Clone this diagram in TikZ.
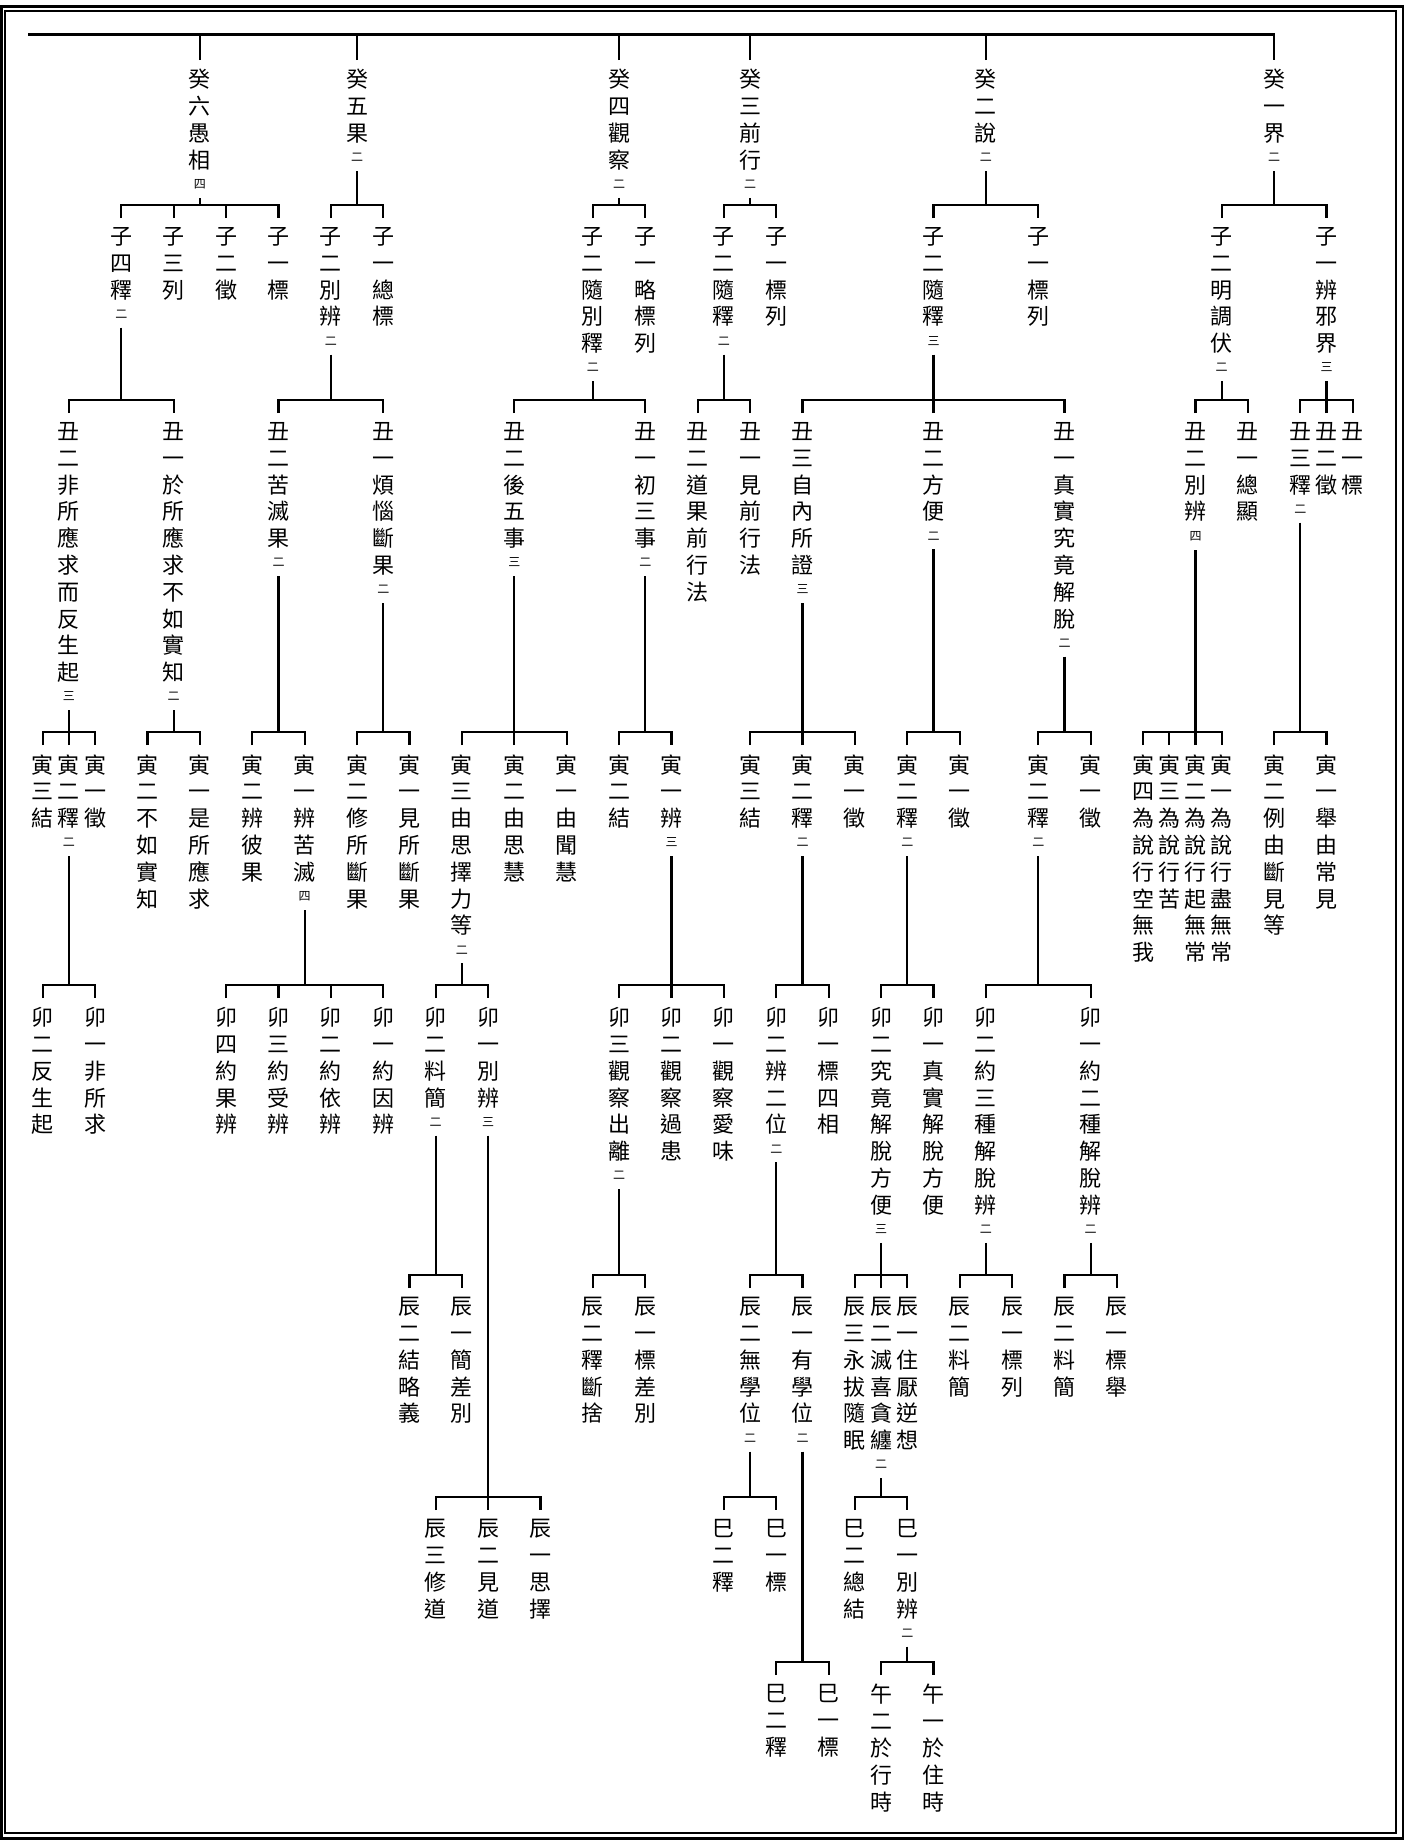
\documentclass[tikz,border=0pt]{standalone}
\usepackage{fontspec}
\usepackage{tikz}
\newfontfamily\cjk{Noto Sans CJK TC}
\newcommand\tally[1]{\\[-3.3pt]{\fontsize{6}{7}\selectfont #1}}
\tikzset{
  lbl/.style={font=\cjk\fontsize{11}{13.4}\selectfont,align=center,anchor=north,inner xsep=0pt,inner ysep=4.5pt},
  link/.style={line width=1.1pt}
}

\begin{document}
\begin{tikzpicture}[x=13.1pt,y=-0.5pt]
\useasboundingbox (-0.63,0) rectangle (53.03,1843);
\draw[line width=1.35pt] (-0.58,6.2) rectangle (52.92,1838.5);
\draw[line width=1pt] (-0.44,10.6) rectangle (52.67,1833);
\node[lbl] (gui7) at (7,60) {癸\\六\\愚\\相\tally{四}};
\node[lbl] (gui13) at (13,60) {癸\\五\\果\tally{二}};
\node[lbl] (gui23) at (23,60) {癸\\四\\觀\\察\tally{二}};
\node[lbl] (gui28) at (28,60) {癸\\三\\前\\行\tally{二}};
\node[lbl] (gui37) at (37,60) {癸\\二\\說\tally{二}};
\node[lbl] (gui48) at (48,60) {癸\\一\\界\tally{二}};
\node[lbl] (zi4) at (4,218) {子\\四\\釋\tally{二}};
\node[lbl] (zi6) at (6,218) {子\\三\\列};
\node[lbl] (zi8) at (8,218) {子\\二\\徵};
\node[lbl] (zi10) at (10,218) {子\\一\\標};
\node[lbl] (zi12) at (12,218) {子\\二\\別\\辨\tally{二}};
\node[lbl] (zi14) at (14,218) {子\\一\\總\\標};
\node[lbl] (zi22) at (22,218) {子\\二\\隨\\別\\釋\tally{二}};
\node[lbl] (zi24) at (24,218) {子\\一\\略\\標\\列};
\node[lbl] (zi27) at (27,218) {子\\二\\隨\\釋\tally{二}};
\node[lbl] (zi29) at (29,218) {子\\一\\標\\列};
\node[lbl] (zi35) at (35,218) {子\\二\\隨\\釋\tally{三}};
\node[lbl] (zi39) at (39,218) {子\\一\\標\\列};
\node[lbl] (zi46) at (46,218) {子\\二\\明\\調\\伏\tally{二}};
\node[lbl] (zi50) at (50,218) {子\\一\\辨\\邪\\界\tally{三}};
\node[lbl] (chou2) at (2,413) {丑\\二\\非\\所\\應\\求\\而\\反\\生\\起\tally{三}};
\node[lbl] (chou6) at (6,413) {丑\\一\\於\\所\\應\\求\\不\\如\\實\\知\tally{二}};
\node[lbl] (chou10) at (10,413) {丑\\二\\苦\\滅\\果\tally{二}};
\node[lbl] (chou14) at (14,413) {丑\\一\\煩\\惱\\斷\\果\tally{二}};
\node[lbl] (chou19) at (19,413) {丑\\二\\後\\五\\事\tally{三}};
\node[lbl] (chou24) at (24,413) {丑\\一\\初\\三\\事\tally{二}};
\node[lbl] (chou26) at (26,413) {丑\\二\\道\\果\\前\\行\\法};
\node[lbl] (chou28) at (28,413) {丑\\一\\見\\前\\行\\法};
\node[lbl] (chou30) at (30,413) {丑\\三\\自\\內\\所\\證\tally{三}};
\node[lbl] (chou35) at (35,413) {丑\\二\\方\\便\tally{二}};
\node[lbl] (chou40) at (40,413) {丑\\一\\真\\實\\究\\竟\\解\\脫\tally{二}};
\node[lbl] (chou45) at (45,413) {丑\\二\\別\\辨\tally{四}};
\node[lbl] (chou47) at (47,413) {丑\\一\\總\\顯};
\node[lbl] (chou49) at (49,413) {丑\\三\\釋\tally{二}};
\node[lbl] (chou50) at (50,413) {丑\\二\\徵};
\node[lbl] (chou51) at (51,413) {丑\\一\\標};
\node[lbl] (yin1) at (1,745) {寅\\三\\結};
\node[lbl] (yin2) at (2,745) {寅\\二\\釋\tally{二}};
\node[lbl] (yin3) at (3,745) {寅\\一\\徵};
\node[lbl] (yin5) at (5,745) {寅\\二\\不\\如\\實\\知};
\node[lbl] (yin7) at (7,745) {寅\\一\\是\\所\\應\\求};
\node[lbl] (yin9) at (9,745) {寅\\二\\辨\\彼\\果};
\node[lbl] (yin11) at (11,745) {寅\\一\\辨\\苦\\滅\tally{四}};
\node[lbl] (yin13) at (13,745) {寅\\二\\修\\所\\斷\\果};
\node[lbl] (yin15) at (15,745) {寅\\一\\見\\所\\斷\\果};
\node[lbl] (yin17) at (17,745) {寅\\三\\由\\思\\擇\\力\\等\tally{二}};
\node[lbl] (yin19) at (19,745) {寅\\二\\由\\思\\慧};
\node[lbl] (yin21) at (21,745) {寅\\一\\由\\聞\\慧};
\node[lbl] (yin23) at (23,745) {寅\\二\\結};
\node[lbl] (yin25) at (25,745) {寅\\一\\辨\tally{三}};
\node[lbl] (yin28) at (28,745) {寅\\三\\結};
\node[lbl] (yin30) at (30,745) {寅\\二\\釋\tally{二}};
\node[lbl] (yin32) at (32,745) {寅\\一\\徵};
\node[lbl] (yin34) at (34,745) {寅\\二\\釋\tally{二}};
\node[lbl] (yin36) at (36,745) {寅\\一\\徵};
\node[lbl] (yin39) at (39,745) {寅\\二\\釋\tally{二}};
\node[lbl] (yin41) at (41,745) {寅\\一\\徵};
\node[lbl] (yin43) at (43,745) {寅\\四\\為\\說\\行\\空\\無\\我};
\node[lbl] (yin44) at (44,745) {寅\\三\\為\\說\\行\\苦};
\node[lbl] (yin45) at (45,745) {寅\\二\\為\\說\\行\\起\\無\\常};
\node[lbl] (yin46) at (46,745) {寅\\一\\為\\說\\行\\盡\\無\\常};
\node[lbl] (yin48) at (48,745) {寅\\二\\例\\由\\斷\\見\\等};
\node[lbl] (yin50) at (50,745) {寅\\一\\舉\\由\\常\\見};
\node[lbl] (mao1) at (1,998) {卯\\二\\反\\生\\起};
\node[lbl] (mao3) at (3,998) {卯\\一\\非\\所\\求};
\node[lbl] (mao8) at (8,998) {卯\\四\\約\\果\\辨};
\node[lbl] (mao10) at (10,998) {卯\\三\\約\\受\\辨};
\node[lbl] (mao12) at (12,998) {卯\\二\\約\\依\\辨};
\node[lbl] (mao14) at (14,998) {卯\\一\\約\\因\\辨};
\node[lbl] (mao16) at (16,998) {卯\\二\\料\\簡\tally{二}};
\node[lbl] (mao18) at (18,998) {卯\\一\\別\\辨\tally{三}};
\node[lbl] (mao23) at (23,998) {卯\\三\\觀\\察\\出\\離\tally{二}};
\node[lbl] (mao25) at (25,998) {卯\\二\\觀\\察\\過\\患};
\node[lbl] (mao27) at (27,998) {卯\\一\\觀\\察\\愛\\味};
\node[lbl] (mao29) at (29,998) {卯\\二\\辨\\二\\位\tally{二}};
\node[lbl] (mao31) at (31,998) {卯\\一\\標\\四\\相};
\node[lbl] (mao33) at (33,998) {卯\\二\\究\\竟\\解\\脫\\方\\便\tally{三}};
\node[lbl] (mao35) at (35,998) {卯\\一\\真\\實\\解\\脫\\方\\便};
\node[lbl] (mao37) at (37,998) {卯\\二\\約\\三\\種\\解\\脫\\辨\tally{二}};
\node[lbl] (mao41) at (41,998) {卯\\一\\約\\二\\種\\解\\脫\\辨\tally{二}};
\node[lbl] (chen15) at (15,1288) {辰\\二\\結\\略\\義};
\node[lbl] (chen17) at (17,1288) {辰\\一\\簡\\差\\別};
\node[lbl] (chen22) at (22,1288) {辰\\二\\釋\\斷\\捨};
\node[lbl] (chen24) at (24,1288) {辰\\一\\標\\差\\別};
\node[lbl] (chen28) at (28,1288) {辰\\二\\無\\學\\位\tally{二}};
\node[lbl] (chen30) at (30,1288) {辰\\一\\有\\學\\位\tally{二}};
\node[lbl] (chen32) at (32,1288) {辰\\三\\永\\拔\\隨\\眠};
\node[lbl] (chen33) at (33,1288) {辰\\二\\滅\\喜\\貪\\纏\tally{二}};
\node[lbl] (chen34) at (34,1288) {辰\\一\\住\\厭\\逆\\想};
\node[lbl] (chen36) at (36,1288) {辰\\二\\料\\簡};
\node[lbl] (chen38) at (38,1288) {辰\\一\\標\\列};
\node[lbl] (chen40) at (40,1288) {辰\\二\\料\\簡};
\node[lbl] (chen42) at (42,1288) {辰\\一\\標\\舉};
\node[lbl] (chen16) at (16,1510) {辰\\三\\修\\道};
\node[lbl] (chen18) at (18,1510) {辰\\二\\見\\道};
\node[lbl] (chen20) at (20,1510) {辰\\一\\思\\擇};
\node[lbl] (si27) at (27,1510) {巳\\二\\釋};
\node[lbl] (si29) at (29,1510) {巳\\一\\標};
\node[lbl] (si32) at (32,1510) {巳\\二\\總\\結};
\node[lbl] (si34) at (34,1510) {巳\\一\\別\\辨\tally{二}};
\node[lbl] (sib29) at (29,1675) {巳\\二\\釋};
\node[lbl] (sib31) at (31,1675) {巳\\一\\標};
\node[lbl] (wu33) at (33,1675) {午\\二\\於\\行\\時};
\node[lbl] (wu35) at (35,1675) {午\\一\\於\\住\\時};
\coordinate (barL) at (0.44,34.5);
\draw[link] (barL) -- (gui48.north |- 0,34.5) -- (gui48.north);
\draw[link] (gui7.north) -- (gui7.north |- 0,34.5);
\draw[link] (gui13.north) -- (gui13.north |- 0,34.5);
\draw[link] (gui23.north) -- (gui23.north |- 0,34.5);
\draw[link] (gui28.north) -- (gui28.north |- 0,34.5);
\draw[link] (gui37.north) -- (gui37.north |- 0,34.5);
\draw[link] (gui7.south) -- (gui7.south |- 0,205);
\draw[link] (zi4.north) |- (zi10.north |- 0,205) -- (zi10.north);
\draw[link] (zi6.north) -- (zi6.north |- 0,205);
\draw[link] (zi8.north) -- (zi8.north |- 0,205);
\draw[link] (gui13.south) -- (gui13.south |- 0,205);
\draw[link] (zi12.north) |- (zi14.north |- 0,205) -- (zi14.north);
\draw[link] (gui23.south) -- (gui23.south |- 0,205);
\draw[link] (zi22.north) |- (zi24.north |- 0,205) -- (zi24.north);
\draw[link] (gui28.south) -- (gui28.south |- 0,205);
\draw[link] (zi27.north) |- (zi29.north |- 0,205) -- (zi29.north);
\draw[link] (gui37.south) -- (gui37.south |- 0,205);
\draw[link] (zi35.north) |- (zi39.north |- 0,205) -- (zi39.north);
\draw[link] (gui48.south) -- (gui48.south |- 0,205);
\draw[link] (zi46.north) |- (zi50.north |- 0,205) -- (zi50.north);
\draw[link] (zi4.south) -- (zi4.south |- 0,400);
\draw[link] (chou2.north) |- (chou6.north |- 0,400) -- (chou6.north);
\draw[link] (zi12.south) -- (zi12.south |- 0,400);
\draw[link] (chou10.north) |- (chou14.north |- 0,400) -- (chou14.north);
\draw[link] (zi22.south) -- (zi22.south |- 0,400);
\draw[link] (chou19.north) |- (chou24.north |- 0,400) -- (chou24.north);
\draw[link] (zi27.south) -- (zi27.south |- 0,400);
\draw[link] (chou26.north) |- (chou28.north |- 0,400) -- (chou28.north);
\draw[link] (zi35.south) -- (zi35.south |- 0,400);
\draw[link] (chou30.north) |- (chou40.north |- 0,400) -- (chou40.north);
\draw[link] (chou35.north) -- (chou35.north |- 0,400);
\draw[link] (zi46.south) -- (zi46.south |- 0,400);
\draw[link] (chou45.north) |- (chou47.north |- 0,400) -- (chou47.north);
\draw[link] (zi50.south) -- (zi50.south |- 0,400);
\draw[link] (chou49.north) |- (chou51.north |- 0,400) -- (chou51.north);
\draw[link] (chou50.north) -- (chou50.north |- 0,400);
\draw[link] (chou2.south) -- (chou2.south |- 0,732);
\draw[link] (yin1.north) |- (yin3.north |- 0,732) -- (yin3.north);
\draw[link] (yin2.north) -- (yin2.north |- 0,732);
\draw[link] (chou6.south) -- (chou6.south |- 0,732);
\draw[link] (yin5.north) |- (yin7.north |- 0,732) -- (yin7.north);
\draw[link] (chou10.south) -- (chou10.south |- 0,732);
\draw[link] (yin9.north) |- (yin11.north |- 0,732) -- (yin11.north);
\draw[link] (chou14.south) -- (chou14.south |- 0,732);
\draw[link] (yin13.north) |- (yin15.north |- 0,732) -- (yin15.north);
\draw[link] (chou19.south) -- (chou19.south |- 0,732);
\draw[link] (yin17.north) |- (yin21.north |- 0,732) -- (yin21.north);
\draw[link] (yin19.north) -- (yin19.north |- 0,732);
\draw[link] (chou24.south) -- (chou24.south |- 0,732);
\draw[link] (yin23.north) |- (yin25.north |- 0,732) -- (yin25.north);
\draw[link] (chou30.south) -- (chou30.south |- 0,732);
\draw[link] (yin28.north) |- (yin32.north |- 0,732) -- (yin32.north);
\draw[link] (yin30.north) -- (yin30.north |- 0,732);
\draw[link] (chou35.south) -- (chou35.south |- 0,732);
\draw[link] (yin34.north) |- (yin36.north |- 0,732) -- (yin36.north);
\draw[link] (chou40.south) -- (chou40.south |- 0,732);
\draw[link] (yin39.north) |- (yin41.north |- 0,732) -- (yin41.north);
\draw[link] (chou45.south) -- (chou45.south |- 0,732);
\draw[link] (yin43.north) |- (yin46.north |- 0,732) -- (yin46.north);
\draw[link] (yin44.north) -- (yin44.north |- 0,732);
\draw[link] (yin45.north) -- (yin45.north |- 0,732);
\draw[link] (chou49.south) -- (chou49.south |- 0,732);
\draw[link] (yin48.north) |- (yin50.north |- 0,732) -- (yin50.north);
\draw[link] (yin2.south) -- (yin2.south |- 0,985);
\draw[link] (mao1.north) |- (mao3.north |- 0,985) -- (mao3.north);
\draw[link] (yin11.south) -- (yin11.south |- 0,985);
\draw[link] (mao8.north) |- (mao14.north |- 0,985) -- (mao14.north);
\draw[link] (mao10.north) -- (mao10.north |- 0,985);
\draw[link] (mao12.north) -- (mao12.north |- 0,985);
\draw[link] (yin17.south) -- (yin17.south |- 0,985);
\draw[link] (mao16.north) |- (mao18.north |- 0,985) -- (mao18.north);
\draw[link] (yin25.south) -- (yin25.south |- 0,985);
\draw[link] (mao23.north) |- (mao27.north |- 0,985) -- (mao27.north);
\draw[link] (mao25.north) -- (mao25.north |- 0,985);
\draw[link] (yin30.south) -- (yin30.south |- 0,985);
\draw[link] (mao29.north) |- (mao31.north |- 0,985) -- (mao31.north);
\draw[link] (yin34.south) -- (yin34.south |- 0,985);
\draw[link] (mao33.north) |- (mao35.north |- 0,985) -- (mao35.north);
\draw[link] (yin39.south) -- (yin39.south |- 0,985);
\draw[link] (mao37.north) |- (mao41.north |- 0,985) -- (mao41.north);
\draw[link] (mao16.south) -- (mao16.south |- 0,1275);
\draw[link] (chen15.north) |- (chen17.north |- 0,1275) -- (chen17.north);
\draw[link] (mao23.south) -- (mao23.south |- 0,1275);
\draw[link] (chen22.north) |- (chen24.north |- 0,1275) -- (chen24.north);
\draw[link] (mao29.south) -- (mao29.south |- 0,1275);
\draw[link] (chen28.north) |- (chen30.north |- 0,1275) -- (chen30.north);
\draw[link] (mao33.south) -- (mao33.south |- 0,1275);
\draw[link] (chen32.north) |- (chen34.north |- 0,1275) -- (chen34.north);
\draw[link] (chen33.north) -- (chen33.north |- 0,1275);
\draw[link] (mao37.south) -- (mao37.south |- 0,1275);
\draw[link] (chen36.north) |- (chen38.north |- 0,1275) -- (chen38.north);
\draw[link] (mao41.south) -- (mao41.south |- 0,1275);
\draw[link] (chen40.north) |- (chen42.north |- 0,1275) -- (chen42.north);
\draw[link] (mao18.south) -- (mao18.south |- 0,1497);
\draw[link] (chen16.north) |- (chen20.north |- 0,1497) -- (chen20.north);
\draw[link] (chen18.north) -- (chen18.north |- 0,1497);
\draw[link] (chen28.south) -- (chen28.south |- 0,1497);
\draw[link] (si27.north) |- (si29.north |- 0,1497) -- (si29.north);
\draw[link] (chen33.south) -- (chen33.south |- 0,1497);
\draw[link] (si32.north) |- (si34.north |- 0,1497) -- (si34.north);
\draw[link] (chen30.south) -- (chen30.south |- 0,1662);
\draw[link] (sib29.north) |- (sib31.north |- 0,1662) -- (sib31.north);
\draw[link] (si34.south) -- (si34.south |- 0,1662);
\draw[link] (wu33.north) |- (wu35.north |- 0,1662) -- (wu35.north);
\end{tikzpicture}
\end{document}
